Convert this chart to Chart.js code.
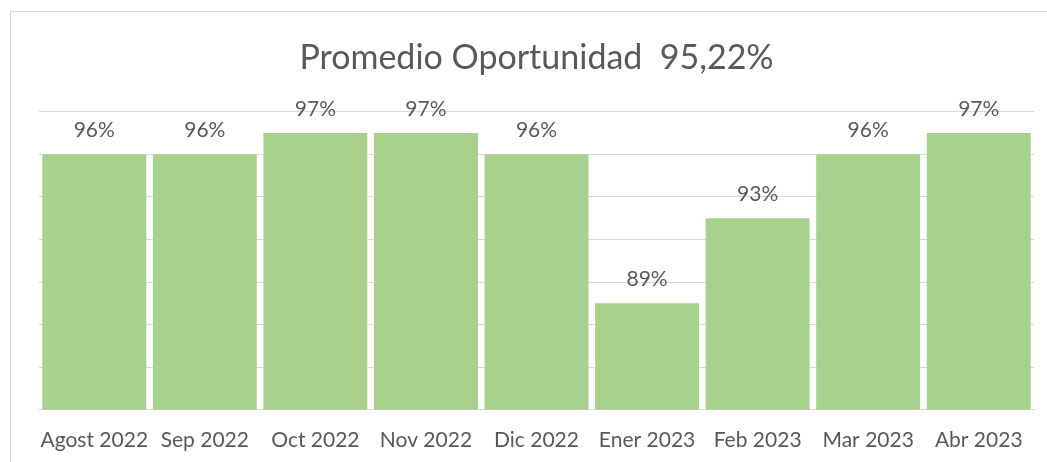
<!DOCTYPE html>
<html>
<head>
<meta charset="utf-8">
<script src="https://cdn.jsdelivr.net/npm/chart.js@4"></script>
<style>
  html, body { margin: 0; padding: 0; background: #fff; overflow: hidden; }
  #wrap { width: 1047px; height: 471px; position: relative; }
</style>
</head>
<body>
<div id="wrap"><canvas id="chart"></canvas></div>
<script>
const months = ['Agost 2022', 'Sep 2022', 'Oct 2022', 'Nov 2022', 'Dic 2022', 'Ener 2023', 'Feb 2023', 'Mar 2023', 'Abr 2023'];
const oportunidad = [96, 96, 97, 97, 96, 89, 93, 96, 97];
const chartTitle = 'Promedio Oportunidad  95,22%';

const FONT = 'Lato, "Open Sans", sans-serif';
const TEXT = '#595959';

// outer frame like the spreadsheet chart box
const framePlugin = {
  id: 'frame',
  beforeDraw(chart) {
    const c = chart.ctx;
    c.save();
    c.strokeStyle = '#d9d9d9';
    c.lineWidth = 1;
    c.strokeRect(10.5, 11.5, 1100, 500);
    c.restore();
  }
};

// value labels above bars
const labelPlugin = {
  id: 'valueLabels',
  afterDatasetsDraw(chart) {
    const c = chart.ctx;
    const meta = chart.getDatasetMeta(0);
    c.save();
    c.font = '21px ' + FONT;
    c.fillStyle = TEXT;
    c.textAlign = 'center';
    c.textBaseline = 'middle';
    meta.data.forEach((bar, i) => {
      c.fillText(oportunidad[i] + '%', bar.x, bar.y - 24);
    });
    c.restore();
  }
};

new Chart(document.getElementById('chart'), {
  type: 'bar',
  data: {
    labels: months,
    datasets: [{
      data: oportunidad,
      backgroundColor: '#a9d18e',
      borderWidth: 0,
      categoryPercentage: 1,
      barPercentage: 0.94
    }]
  },
  options: {
    responsive: true,
    maintainAspectRatio: false,
    animation: false,
    layout: { padding: { left: 39, right: 13, top: 0, bottom: 0 } },
    plugins: {
      legend: { display: false },
      tooltip: { enabled: false },
      title: {
        display: true,
        text: chartTitle,
        color: TEXT,
        font: { family: FONT, size: 34, weight: 'normal' },
        padding: { top: 38, bottom: 33 }
      }
    },
    scales: {
      x: {
        grid: { display: false, drawTicks: false },
        border: { color: '#d9d9d9', width: 1 },
        ticks: { color: TEXT, font: { family: FONT, size: 21 }, padding: 18, maxRotation: 0, autoSkip: false }
      },
      y: {
        min: 84,
        max: 98,
        ticks: { display: false, stepSize: 2 },
        grid: { color: '#d9d9d9', drawTicks: false },
        border: { display: false }
      }
    }
  },
  plugins: [framePlugin, labelPlugin]
});
</script>
</body>
</html>
